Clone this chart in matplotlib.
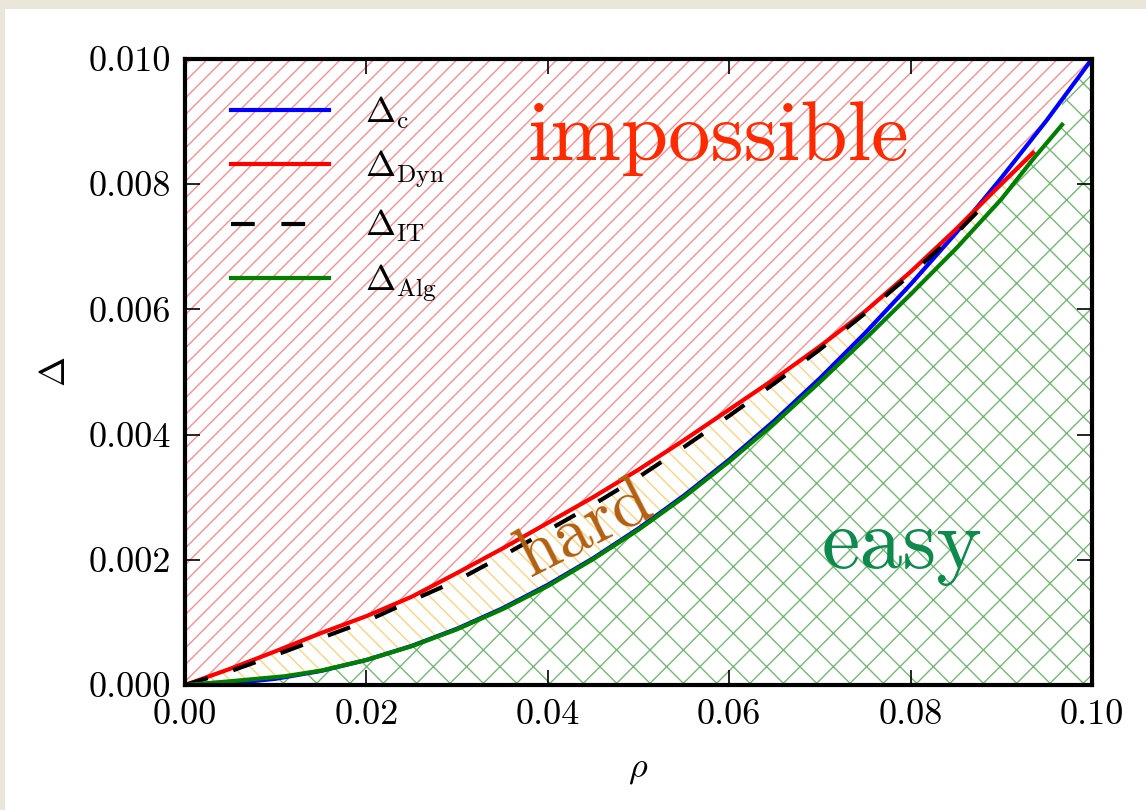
import numpy as np
import matplotlib
matplotlib.use("Agg")
import matplotlib.pyplot as plt
from matplotlib.patches import Rectangle

plt.rcParams.update({
    "font.family": "serif",
    "font.serif": ["cmr10"],
    "mathtext.fontset": "cm",
    "axes.formatter.use_mathtext": True,
    "hatch.linewidth": 1.0,
})

# critical line Delta_c
rho_c = np.array([0, .005, .01, .015, .02, .025, .03, .035, .04, .045, .05, .055,
                  .06, .065, .07, .075, .08, .085, .09, .095, .1])
delta_c = np.array([0, .000025, .0001, .000225, .0004, .000625, .0009, .001225,
                    .0016, .002025, .0025, .003025, .0036, .004225, .0049,
                    .005625, .0064, .00722, .0081, .00902, .01])

# spinodal Delta_Dyn
rho_dyn = np.array([0, .005, .01, .015, .02, .025, .03, .035, .04, .045, .05,
                    .055, .06, .065, .07, .075, .08, .085, .089, .0935])
delta_dyn = np.array([0, .00026, .00054, .00083, .00110, .00141, .00179, .00218,
                      .00259, .00300, .00344, .00391, .00440, .00489, .00541,
                      .00597, .00660, .00728, .00786, .00850])

# information theoretic Delta_IT
rho_it = np.array([0, .005, .01, .015, .02, .025, .03, .035, .04, .045, .05,
                   .055, .06, .065, .07, .075, .08, .085, .089])
delta_it = np.array([0, .00022, .00048, .00075, .00102, .00135, .00167, .00206,
                     .00247, .00288, .00332, .00380, .00430, .00482, .00536,
                     .00594, .00656, .00721, .00780])

# algorithmic threshold Delta_Alg
rho_alg = np.array([0, .005, .011, .015, .02, .025, .03, .035, .04, .045, .05,
                    .055, .06, .065, .07, .075, .08, .085, .09, .0935, .0967])
delta_alg = np.array([0, .00006, .00014, .00023, .0004, .00062, .00089, .00121,
                      .00158, .00201, .00248, .00300, .00357, .00418, .00484,
                      .00553, .00624, .00697, .00776, .0084, .00895])

xticks = [0, .02, .04, .06, .08, .1]
xtick_labels = ["0.00", "0.02", "0.04", "0.06", "0.08", "0.10"]
yticks = [0, .002, .004, .006, .008, .01]
ytick_labels = ["0.000", "0.002", "0.004", "0.006", "0.008", "0.010"]

fig = plt.figure(figsize=(11.46, 8.10), dpi=100, facecolor="#eae6da")
fig.add_artist(Rectangle((5 / 1146, 0), 1, 1 - 9 / 810, transform=fig.transFigure,
                         facecolor="white", edgecolor="none", zorder=0))
ax = fig.add_axes([0.1614, 0.1543, 0.7915, 0.7729])

# region boundaries
tail = rho_c > rho_dyn[-1]
imp_x = np.concatenate([rho_dyn, rho_c[tail]])
imp_y = np.concatenate([delta_dyn, delta_c[tail]])
hard_low = np.interp(rho_dyn, rho_alg, delta_alg)
easy_x = np.concatenate([rho_alg, [rho_alg[-1]], rho_c[rho_c > rho_alg[-1]]])
easy_y = np.concatenate([delta_alg, [np.interp(rho_alg[-1], rho_c, delta_c)],
                         delta_c[rho_c > rho_alg[-1]]])

ax.fill_between(imp_x, imp_y, 0.01, facecolor="none", edgecolor="red",
                hatch="//", linewidth=0, alpha=0.45)
ax.fill_between(rho_dyn, hard_low, delta_dyn, facecolor="none", edgecolor="orange",
                hatch="\\\\", linewidth=0, alpha=0.5)
ax.fill_between(easy_x, 0, easy_y, facecolor="none", edgecolor="green",
                hatch="x", linewidth=0, alpha=0.55)

ax.plot(rho_c, delta_c, color="blue", lw=3, label=r"$\Delta_{\rm c}$")
ax.plot(rho_dyn, delta_dyn, color="red", lw=3, label=r"$\Delta_{\rm Dyn}$")
ax.plot(rho_it, delta_it, color="black", lw=3, ls="--", dashes=(5.7, 6.4),
        label=r"$\Delta_{\rm IT}$")
ax.plot(rho_alg, delta_alg, color="green", lw=3, label=r"$\Delta_{\rm Alg}$")

ax.text(0.0588, 0.00839, "impossible", color="#ff2a00", fontsize=61,
        ha="center", va="baseline")
ax.text(0.0442, 0.0025, "hard", color="#b35f10", fontsize=51, rotation=27,
        ha="center", va="center", rotation_mode="anchor")
ax.text(0.0790, 0.00187, "easy", color="#0e8a4c", fontsize=62,
        ha="center", va="baseline")

ax.legend(loc="upper left", bbox_to_anchor=(0.035, 0.966), frameon=False,
          fontsize=26, handlelength=2.7, handletextpad=1.0, labelspacing=0.5,
          borderaxespad=0)

ax.set_xlim(0, 0.1)
ax.set_ylim(0, 0.01)
ax.set_xticks(xticks)
ax.set_xticklabels(xtick_labels)
ax.set_yticks(yticks)
ax.set_yticklabels(ytick_labels)
ax.tick_params(direction="in", length=11, width=1.2, top=True, right=True,
               pad=10, labelsize=26)
for s in ax.spines.values():
    s.set_linewidth(3)
ax.set_xlabel(r"$\rho$", fontsize=26, labelpad=17)
ax.set_ylabel(r"$\Delta$", fontsize=26, labelpad=12)

fig.savefig("out.png", dpi=100, facecolor=fig.get_facecolor())
